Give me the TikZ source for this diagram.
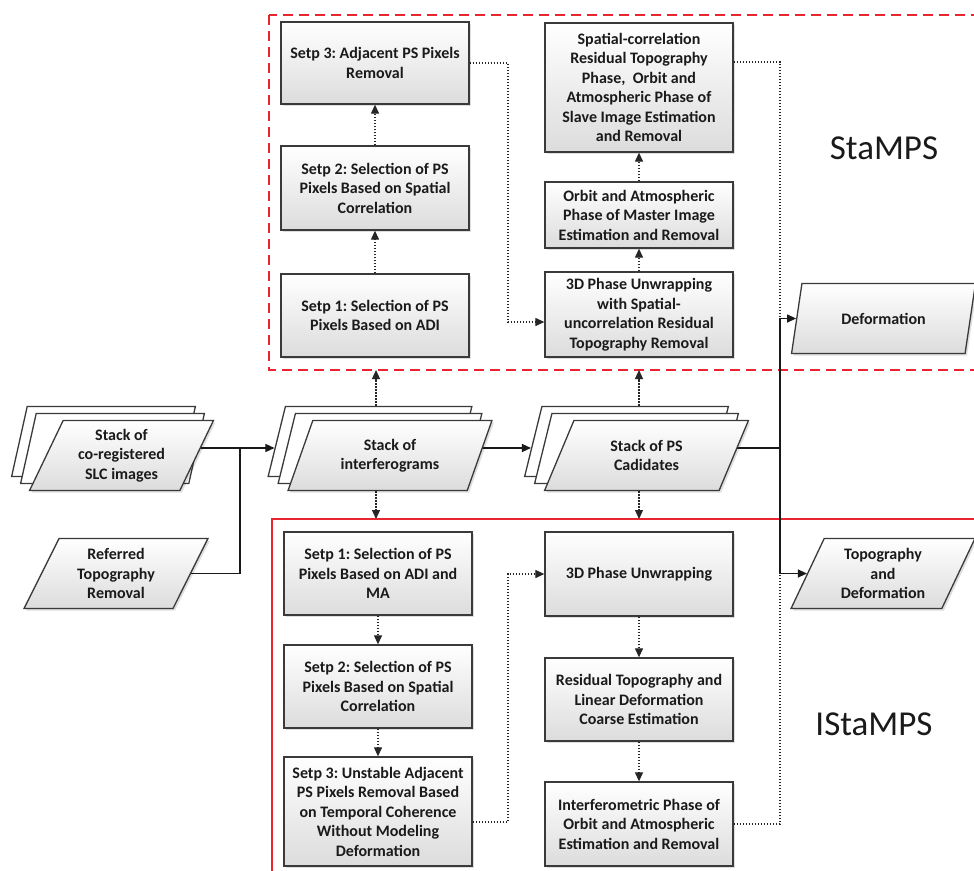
\documentclass[tikz,border=0pt]{standalone}
\usepackage{fontspec}
\setmainfont{Carlito}
\frenchspacing
\usetikzlibrary{shapes.geometric,arrows.meta,shadows,backgrounds}
\definecolor{bordc}{HTML}{3A3A3A}
\definecolor{txtc}{HTML}{1A1A1A}
\definecolor{redl}{RGB}{232,38,48}
\definecolor{shbot}{HTML}{DCDCDC}
\newcommand\bxfont{\fontsize{16}{19.5}\selectfont\bfseries}
\newcommand\lblfont{\fontsize{35}{40}\selectfont}
\tikzset{
  shad/.style={drop shadow={shadow xshift=2pt,shadow yshift=-2pt,fill=black,opacity=0.13}},
  box/.style={rectangle, draw=bordc, line width=1.3pt, top color=white, bottom color=shbot,
    minimum width=188pt, inner sep=2pt, align=center, text=txtc, font=\bxfont, shad},
  parabase/.style={trapezium, trapezium left angle=64.7, trapezium right angle=115.3,
    trapezium stretches=true, draw=bordc, line width=1.3pt, minimum height=70pt,
    inner sep=0pt, align=center, text=txtc, font=\bxfont},
  para/.style={parabase, top color=white, bottom color=shbot, shad},
  sheet/.style={parabase, fill=white},
  psmall/.style={minimum width=184pt},
  pbig/.style={minimum width=204pt},
  conn/.style={draw=black!90, line width=1.3pt},
  arr/.style={-{Triangle[length=9pt,width=8pt]}},
  dotc/.style={draw=black!85, line width=1.2pt, dash pattern=on 1.4pt off 1.6pt},
  redbox/.style={draw=redl, line width=1.8pt},
}
\begin{document}
\begin{tikzpicture}[x=1pt,y=-1pt]
\useasboundingbox (0,0) rectangle (974,870);
\clip (0,0) rectangle (974,870);

% ---- StaMPS boxes
\node[box, minimum height=82pt] (s3) at (375,63) {Setp 3: Adjacent PS Pixels\\Removal};
\node[box, minimum height=84pt] (s2) at (375,188) {Setp 2: Selection of PS\\Pixels Based on Spatial\\Correlation};
\node[box, minimum height=83pt] (s1) at (375,315.5) {Setp 1: Selection of PS\\Pixels Based on ADI};
\node[box, minimum height=129pt] (sc) at (639,87.5) {Spatial-correlation\\Residual Topography\\Phase,\ \ Orbit and\\Atmospheric Phase of\\Slave Image Estimation\\and Removal};
\node[box, minimum height=66pt] (om) at (639,215) {Orbit and Atmospheric\\Phase of Master Image\\Estimation and Removal};
\node[box, minimum height=85pt] (su) at (639,314.5) {3D Phase Unwrapping\\with Spatial-\\uncorrelation Residual\\Topography Removal};

% ---- IStaMPS boxes
\node[box, minimum height=83pt] (b1) at (378,573.5) {Setp 1: Selection of PS\\Pixels Based on ADI and\\MA};
\node[box, minimum height=83pt] (b2) at (378,686.5) {Setp 2: Selection of PS\\Pixels Based on Spatial\\Correlation};
\node[box, minimum height=109pt] (b3) at (378,811.5) {Setp 3: Unstable Adjacent\\PS Pixels Removal Based\\on Temporal Coherence\\Without Modeling\\Deformation};
\node[box, minimum height=84pt] (bu) at (639,574) {3D Phase Unwrapping};
\node[box, minimum height=83pt] (br) at (639,699.5) {Residual Topography and\\Linear Deformation\\Coarse Estimation};
\node[box, minimum height=84pt] (bi) at (639,824) {Interferometric Phase of\\Orbit and Atmospheric\\Estimation and Removal};

% ---- stacks and data
\node[sheet, psmall] (slc3) at (103.5,441.5) {\phantom{Stack of}};
\node[sheet, psmall] (slc2) at (112.5,448.5) {\phantom{Stack of}};
\node[para, psmall] (slc) at (121.5,455.5) {Stack of\\co-registered\\SLC images};
\node[para, psmall] (ref) at (116,573.5) {Referred\\Topography\\Removal};

\node[sheet, pbig] (ifg3) at (370,441.5) {\phantom{Stack of}};
\node[sheet, pbig] (ifg2) at (380,448.5) {\phantom{Stack of}};
\node[para, pbig] (ifg) at (390,455.5) {Stack of\\interferograms};

\node[sheet, pbig] (ps3) at (626.5,441.5) {\phantom{Stack of}};
\node[sheet, pbig] (ps2) at (636.5,448.5) {\phantom{Stack of}};
\node[para, pbig] (ps) at (646.5,455.5) {Stack of PS\\Cadidates};

\node[para, psmall] (def) at (883.5,318.5) {Deformation};
\node[para, psmall] (topo) at (883,573.5) {Topography\\and\\Deformation};

% ---- labels
\node[font=\lblfont, text=txtc] (lsta) at (884,148) {StaMPS};
\node[font=\lblfont, text=txtc] (lista) at (874,724) {IStaMPS};

% ---- helper coordinates
\coordinate (j1) at (240,448);
\coordinate (j2) at (780,448);
\coordinate (r1) at (508,448);
\coordinate (ia) at (376,370);
\coordinate (ib) at (376,519);
\coordinate (pa) at (639,370);
\coordinate (pb) at (639,519);
\coordinate (scout) at ([yshift=25.5pt]sc.east);
\coordinate (suin) at ([yshift=-7.5pt]su.west);
\coordinate (b3out) at ([yshift=-10.5pt]b3.east);

\begin{scope}[on background layer]
  % red frames
  \draw[redbox, dash pattern=on 10pt off 6pt] (269,15) rectangle (990,370);
  \draw[redbox, line width=1.2pt] (272,519) rectangle (990,890);

  % solid connectors
  \draw[conn, arr] (slc.east |- j1) -- (ifg3.184 |- j1);
  \draw[conn] (ref.east) -| (j1);
  \draw[conn, arr] (ifg.east |- j1) -- (ps3.184 |- j1);
  \draw[conn] (ps.east |- j2) -- (j2);
  \draw[conn, arr] (j2) |- (def.west);
  \draw[conn, arr] (j2) |- (topo.west);

  % dotted connectors StaMPS
  \draw[dotc, arr] (ia |- ifg3.north) -- (ia);
  \draw[dotc, arr] (pa |- ps3.north) -- (pa);
  \draw[dotc, arr] (s1) -- (s2);
  \draw[dotc, arr] (s2) -- (s3);
  \draw[dotc, arr] (su) -- (om);
  \draw[dotc, arr] (om) -- (sc);
  \draw[dotc, arr] (s3.east) -- (s3.east -| r1) -- (r1 |- suin) -- (suin);
  \draw[dotc] (scout) -| (j2 |- def.west);

  % dotted connectors IStaMPS
  \draw[dotc, arr] (ib |- ifg.south) -- (ib);
  \draw[dotc, arr] (pb |- ps.south) -- (pb);
  \draw[dotc, arr] (b1) -- (b2);
  \draw[dotc, arr] (b2) -- (b3);
  \draw[dotc, arr] (bu) -- (br);
  \draw[dotc, arr] (br) -- (bi);
  \draw[dotc, arr] (b3out) -- (b3out -| r1) -- (r1 |- bu.west) -- (bu.west);
  \draw[dotc] (bi.east) -| (j2 |- topo.west);
\end{scope}
\end{tikzpicture}
\end{document}
